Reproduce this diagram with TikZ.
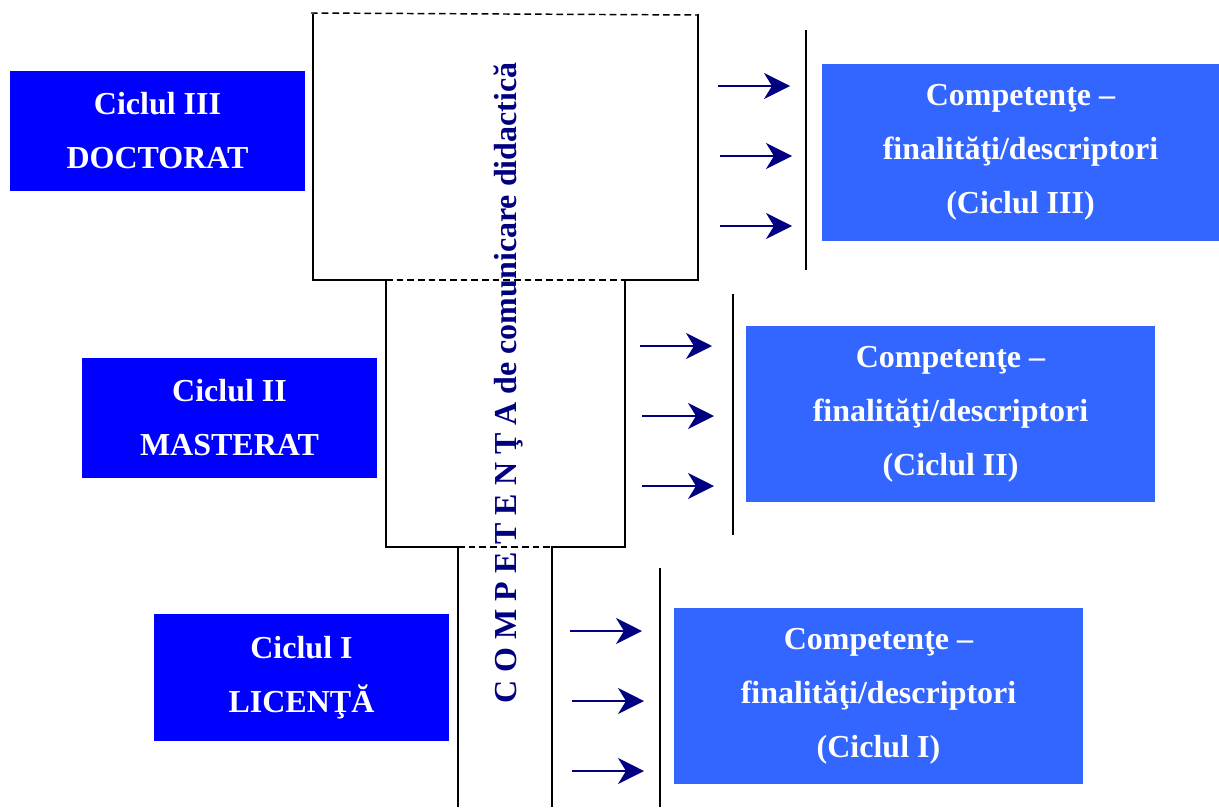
\documentclass[tikz,border=0pt]{standalone}
\usepackage{fontspec}
\setmainfont{Liberation Serif}
\usetikzlibrary{arrows.meta}
\definecolor{ciclublue}{HTML}{0000FF}
\definecolor{rezblue}{HTML}{3366FF}
\definecolor{navyblue}{HTML}{000080}
\begin{document}
\begin{tikzpicture}[x=0.75pt, y=-0.75pt,
    ciclu/.style={fill=ciclublue, text=white, align=center, inner sep=0pt,
      minimum width=221.25pt, minimum height=90pt,
      font=\fontsize{24}{40.5}\selectfont\bfseries},
    rezultat/.style={fill=rezblue, text=white, align=center, inner sep=0pt,
      minimum height=132.5pt,
      font=\fontsize{24}{40.5}\selectfont\bfseries},
    contur/.style={line width=1.1pt},
    punctat/.style={line width=1.1pt, dash pattern=on 5pt off 3pt},
    arr/.style={navyblue, line width=1.5pt,
      -{Stealth[length=19.5pt, width=19.5pt, inset=6pt]}}]
  \useasboundingbox (0,0) rectangle (1219,807);
  % the three cycles
  \node[ciclu] (doctorat) at (157.5,130.5) {Ciclul III\\DOCTORAT};
  \node[ciclu] (masterat) at (229.5,418) {Ciclul II\\MASTERAT};
  \node[ciclu, minimum height=95pt] (licenta) at (301.5,677.5) {Ciclul I\\LICENŢĂ};
  % outcomes
  \node[rezultat, minimum width=297.75pt] (rez3) at (1020.5,152.5)
    {Competenţe --\\finalităţi/descriptori\\(Ciclul III)};
  \node[rezultat, minimum width=306.75pt] (rez2) at (950.5,414)
    {Competenţe --\\finalităţi/descriptori\\(Ciclul II)};
  \node[rezultat, minimum width=306.75pt] (rez1) at (878.5,696)
    {Competenţe --\\finalităţi/descriptori\\(Ciclul I)};
  % stepped outline
  \draw[contur] (313,14) -- (313,280) -- (386,280) -- (386,547)
    -- (458,547) -- (458,807) ;
  \draw[contur] (698,14) -- (698,280) -- (625,280) -- (625,547)
    -- (552,547) -- (552,807) ;
  \draw[punctat] (311,13) -- (698,15) ;
  \draw[punctat] (386,280) -- (625,280) ;
  \draw[punctat] (458,547) -- (552,547) ;
  % vertical bars
  \draw[contur] (806,30) -- (806,270) ;
  \draw[contur] (733,294) -- (733,535) ;
  \draw[contur] (660,568) -- (660,807) ;
  % arrows
  \foreach \x/\y in {718/86, 640/346, 570/631} {
    \draw[arr] (\x,\y) -- ++(72,0) ;
    \draw[arr] (\x+2,\y+70) -- ++(72,0) ;
    \draw[arr] (\x+2,\y+140) -- ++(72,0) ;
  }
  \node[rotate=90, anchor=base, text=navyblue, inner sep=0pt,
    font=\fontsize{24}{28}\selectfont\bfseries] (competenta) at (516,383)
    {C O M P E T E N Ţ A de comunicare didactică};
\end{tikzpicture}
\end{document}
